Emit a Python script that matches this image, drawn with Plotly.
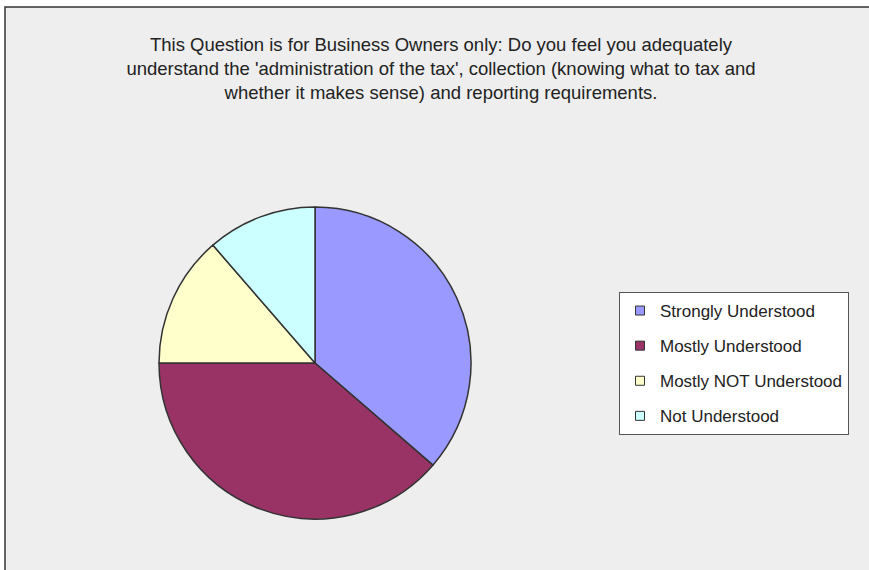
import plotly.graph_objects as go

W, H = 869, 570

labels = ["Strongly Understood", "Mostly Understood", "Mostly NOT Understood", "Not Understood"]
counts = [32, 34, 12, 10]
colors = ["#9999FF", "#993366", "#FFFFCC", "#CCFFFF"]

title = ("This Question is for Business Owners only: Do you feel you adequately<br>"
         "understand the 'administration of the tax', collection (knowing what to tax and<br>"
         "whether it makes sense) and reporting requirements.")

# pie centre / size in pixels
cx, cy, d = 315, 363, 312

fig = go.Figure()
fig.add_trace(go.Pie(
    labels=labels,
    values=counts,
    sort=False,
    direction="clockwise",
    rotation=0,
    textinfo="none",
    showlegend=False,
    marker=dict(colors=colors, line=dict(color="#333333", width=1.5)),
    domain=dict(x=[(cx - d / 2) / W, (cx + d / 2) / W],
                y=[(H - cy - d / 2) / H, (H - cy + d / 2) / H]),
))

# legend entries (one group each so the spacing can be set)
for i, (lab, col) in enumerate(zip(labels, colors)):
    fig.add_trace(go.Scatter(
        x=[None], y=[None], mode="markers", name=lab,
        legendgroup=str(i),
        marker=dict(symbol="square", size=9, color=col,
                    line=dict(color="#333333", width=1)),
    ))

fig.update_layout(
    width=W, height=H,
    margin=dict(l=0, r=0, t=0, b=0),
    paper_bgcolor="white",
    plot_bgcolor="rgba(0,0,0,0)",
    font=dict(family="Arial, Liberation Sans, sans-serif", color="#222222"),
    title=dict(text=title, x=441 / W, xanchor="center", y=1 - 51 / H, yanchor="top",
               font=dict(size=18.5, color="#222222")),
    xaxis=dict(visible=False),
    yaxis=dict(visible=False),
    legend=dict(x=619 / W, y=1 - 292 / H, xanchor="left", yanchor="top",
                bgcolor="white", bordercolor="#555555", borderwidth=1,
                font=dict(size=17, color="#222222"),
                tracegroupgap=10, itemclick=False),
    shapes=[dict(type="rect", xref="paper", yref="paper", layer="below",
                 x0=5 / W, x1=1.2, y0=-0.2, y1=1 - 7 / H,
                 fillcolor="#EEEEEE", line=dict(color="#333333", width=1.5))],
)

fig.write_html("out.html", config={"displayModeBar": False},
               post_script="document.body.style.margin='0';document.body.style.overflow='hidden';")
